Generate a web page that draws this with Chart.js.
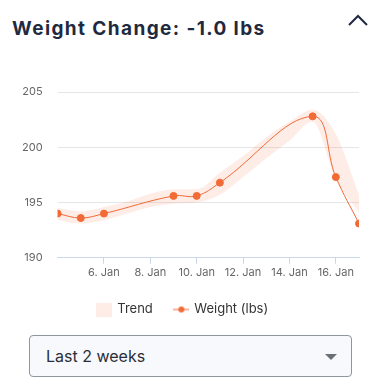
<!DOCTYPE html>
<html>
<head>
<meta charset="utf-8">
<script src="https://cdn.jsdelivr.net/npm/chart.js@4"></script>
<style>
  body { margin: 0; width: 378px; height: 387px; background: #fff; font-family: Inter, sans-serif; position: relative; overflow: hidden; }
  .title { position: absolute; left: 12px; top: 17px; font: 700 19px Inter, sans-serif; letter-spacing: 1.4px; color: #1f2a40; }
  .chev { position: absolute; left: 346px; top: 12px; }
  .chart-container { position: absolute; left: 0; top: 60px; width: 378px; height: 266px; }
  .select { position: absolute; left: 29px; top: 335px; width: 321px; height: 40px; border: 1px solid #9096a0; border-radius: 4px; background: #f8f9fc; box-sizing: content-box; }
  .select span { position: absolute; left: 16px; top: 10px; font: 400 16px Inter, sans-serif; color: #2a2e36; }
  .select .arrow { position: absolute; left: 295px; top: 18px; width: 0; height: 0; border-left: 6px solid transparent; border-right: 6px solid transparent; border-top: 6px solid #6b6f76; }
</style>
</head>
<body>
<div class="title">Weight Change: -1.0 lbs</div>
<svg class="chev" width="26" height="18"><polyline points="3,13 12,4 21,13" fill="none" stroke="#1f2a40" stroke-width="2"/></svg>
<div class="chart-container"><canvas id="chart"></canvas></div>
<div class="select"><span>Last 2 weeks</span><div class="arrow"></div></div>
<script>
const days = [4, 5, 6, 9, 10, 11, 15, 16, 17]
const weight = [194.0, 193.6, 194.0, 195.6, 195.6, 196.8, 202.8, 197.3, 193.1]
const trendDays = [4, 5, 6, 7, 8, 9, 10, 11, 12, 13, 14, 15, 16, 17]
const trendHigh = [194.5, 194.2, 194.6, 195.1, 195.8, 196.2, 196.2, 197.7, 199.2, 200.9, 202.3, 203.4, 201.2, 195.7]
const trendLow = [193.45, 193.1, 193.4, 194.0, 194.6, 194.9, 195.0, 195.7, 197.3, 199.0, 200.6, 202.3, 197.1, 194.1]
const tickDays = [6, 8, 10, 12, 14, 16]
const yTicks = [190, 195, 200, 205]

const orange = '#f26a35'
const band = 'rgba(247, 110, 70, 0.13)'

// legend symbols
const trendIcon = document.createElement('canvas')
trendIcon.width = 16; trendIcon.height = 14
let c = trendIcon.getContext('2d')
c.fillStyle = band; c.fillRect(0, 0, 16, 14)

const weightIcon = document.createElement('canvas')
weightIcon.width = 16; weightIcon.height = 10
c = weightIcon.getContext('2d')
c.strokeStyle = orange; c.lineWidth = 1
c.beginPath(); c.moveTo(0, 5); c.lineTo(16, 5); c.stroke()
c.fillStyle = orange; c.beginPath(); c.arc(8, 5, 3, 0, Math.PI * 2); c.fill()

const icons = [trendIcon, null, weightIcon]

const toPts = (xs, ys) => xs.map((d, i) => ({ x: d, y: ys[i] }))

new Chart(document.getElementById('chart'), {
  type: 'line',
  data: {
    datasets: [
      {
        label: 'Trend',
        data: toPts(trendDays, trendHigh),
        borderWidth: 0,
        borderColor: 'rgba(0,0,0,0)',
        backgroundColor: band,
        pointRadius: 0,
        fill: '+1',
        cubicInterpolationMode: 'monotone',
        order: 2
      },
      {
        label: 'trendLow',
        data: toPts(trendDays, trendLow),
        borderWidth: 0,
        borderColor: 'rgba(0,0,0,0)',
        pointRadius: 0,
        fill: false,
        cubicInterpolationMode: 'monotone',
        order: 2
      },
      {
        label: 'Weight (lbs)',
        data: toPts(days, weight),
        borderColor: orange,
        backgroundColor: orange,
        borderWidth: 1,
        pointRadius: 3.5,
        pointHoverRadius: 4,
        tension: 0.4,
        order: 1
      }
    ]
  },
  options: {
    responsive: true,
    maintainAspectRatio: false,
    animation: false,
    layout: { padding: { left: 7, right: 19, top: 32, bottom: 0 } },
    scales: {
      x: {
        type: 'linear',
        min: 4,
        max: 17,
        afterBuildTicks: s => { s.ticks = tickDays.map(v => ({ value: v })) },
        grid: { drawOnChartArea: false, drawTicks: true, tickLength: 6, color: '#ccd6eb' },
        border: { color: '#ccd6eb' },
        ticks: {
          autoSkip: false,
          maxRotation: 0,
          padding: 2,
          color: '#666',
          font: { family: 'Inter', size: 11 },
          callback: v => v + '. Jan'
        }
      },
      y: {
        min: 190,
        max: 205,
        afterBuildTicks: s => { s.ticks = yTicks.map(v => ({ value: v })) },
        grid: { color: '#e6e6e6', drawTicks: false },
        border: { display: false },
        ticks: { padding: 15, color: '#666', font: { family: 'Inter', size: 11 } }
      }
    },
    plugins: {
      tooltip: { enabled: false },
      legend: {
        position: 'bottom',
        labels: {
          usePointStyle: true,
          color: '#333',
          font: { family: 'Inter', size: 13 },
          padding: 22,
          boxWidth: 16,
          generateLabels: chart => Chart.defaults.plugins.legend.labels.generateLabels(chart)
            .filter(item => item.text !== 'trendLow')
            .sort((a, b) => a.datasetIndex - b.datasetIndex)
            .map(item => Object.assign(item, { pointStyle: icons[item.datasetIndex] }))
        }
      }
    }
  }
})
</script>
</body>
</html>
